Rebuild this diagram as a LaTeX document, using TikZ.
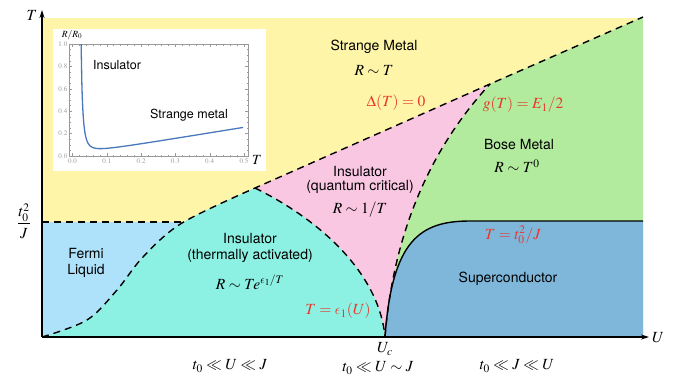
\documentclass[tikz,border=0pt]{standalone}
\usepackage{amsmath}
\usepackage{mathptmx}
\DeclareSymbolFont{cmletters}{OML}{cmm}{m}{it}
\DeclareMathSymbol{\lunateeps}{\mathord}{cmletters}{"0F}
\usepackage{fontspec}
\setmainfont{TeX Gyre Heros}
\usetikzlibrary{arrows.meta}
\definecolor{yel}{HTML}{FEF5A9}
\definecolor{fermi}{HTML}{AEE1FA}
\definecolor{cyanins}{HTML}{8CF1E3}
\definecolor{pinkqc}{HTML}{FAC7E3}
\definecolor{greenbm}{HTML}{B2EB9D}
\definecolor{scblue}{HTML}{7FB7DB}
\definecolor{redlab}{HTML}{E8362A}
\definecolor{curveblue}{HTML}{4A78BC}
\definecolor{framegray}{HTML}{999999}
\tikzset{
  bnd/.style={line width=1.4pt, dash pattern=on 7pt off 5pt},
  solidbnd/.style={line width=1.4pt},
  axis/.style={line width=1.1pt, -{Stealth[length=8pt,width=5pt]}},
  lab/.style={font=\fontsize{14}{16}\selectfont, align=center, inner sep=0pt},
  mlab/.style={font=\fontsize{15.5}{17}\selectfont, align=center, inner sep=0pt},
  redl/.style={mlab, text=redlab},
  tick/.style={line width=0.4pt, framegray},
  ticklab/.style={font=\fontsize{7}{8}\selectfont, text=framegray, inner sep=0pt}
}
\begin{document}
\begin{tikzpicture}[x=1pt,y=-1pt]
\useasboundingbox (0,0) rectangle (678,376);
% key points
\coordinate (O) at (42,337);
\coordinate (Uc) at (385,337);
\coordinate (P) at (255,188);
\coordinate (Q) at (490,84);
\coordinate (TR) at (643,17);
% regions
\fill[yel] (42,18) rectangle (643,337);
\fill[fermi] (42,222) rectangle (182,337);
\fill[greenbm] (Uc) .. controls (392,250) and (420,160) .. (Q) -- (TR) -- (643,337) -- cycle;
\fill[pinkqc] (P) -- (Q) .. controls (420,160) and (392,250) .. (Uc) .. controls (380,280) and (330,225) .. (P) -- cycle;
\fill[cyanins] plot[smooth, tension=0.55] coordinates {(42,337) (87,320) (117,290) (143,257) (182,223) (255,188)} .. controls (330,225) and (380,280) .. (Uc) -- cycle;
\fill[scblue] (Uc) .. controls (392,240) and (420,221) .. (470,221) -- (643,221) -- (643,337) -- cycle;
% boundaries
\draw[bnd] plot[smooth, tension=0.55] coordinates {(42,337) (87,320) (117,290) (143,257) (182,223) (255,188)} -- (Q) -- (TR);
\draw[bnd] (42,222) -- (182,222);
\draw[bnd] (P) .. controls (330,225) and (380,280) .. (Uc);
\draw[bnd] (Uc) .. controls (392,250) and (420,160) .. (Q);
\draw[solidbnd] (Uc) .. controls (392,240) and (420,221) .. (470,221) -- (643,221);
% axes
\draw[axis] (O) -- (42,10);
\draw[axis] (O) -- (649,337);
\node[mlab] (Tax) at (32,15) {$T$};
\node[mlab] (Uax) at (658,338) {$U$};
\node[mlab] (frac) at (24,221) {$\dfrac{t_0^2}{J}$};
\node[mlab] (Ucl) at (385,349) {$U_c$};
% region labels
\node[lab] (sm1) at (374,47) {Strange Metal};
\node[mlab] (sm2) at (374,70) {$R\sim T$};
\node[redl] (delta) at (396,103) {$\Delta(T)=0$};
\node[redl] (gT) at (523,105) {$g(T)=E_1/2$};
\node[lab] (bm1) at (519,144) {Bose Metal};
\node[mlab] (bm2) at (517,166) {$R\sim T^0$};
\node[lab] (qc1) at (360,171) {Insulator};
\node[lab] (qc2) at (360,187) {(quantum critical)};
\node[mlab] (qc3) at (360,210) {$R\sim 1/T$};
\node[lab] (ta1) at (250,238) {Insulator};
\node[lab] (ta2) at (250,256) {(thermally activated)};
\node[mlab] (ta3) at (250,282) {$R\sim Te^{\lunateeps_1/T}$};
\node[lab] (fl1) at (86,253) {Fermi};
\node[lab] (fl2) at (86,271) {Liquid};
\node[redl] (eps) at (338,311) {$T=\lunateeps_1(U)$};
\node[redl] (tj) at (513,235) {$T=t_0^2/J$};
\node[lab] (sc) at (508,279) {Superconductor};
\node[mlab] (r1) at (230,366) {$t_0\ll U\ll J$};
\node[mlab] (r2) at (378,368) {$t_0\ll U\sim J$};
\node[mlab] (r3) at (517,366) {$t_0\ll J\ll U$};
% inset
\fill[white] (53,29) rectangle (266,171);
\draw[framegray, line width=0.6pt] (69,44) rectangle (248,156);
\foreach \i in {0,...,5}{
  \pgfmathsetmacro{\xx}{72.5+34.3*\i}
  \draw[tick] (\xx,156) -- ++(0,-3);
  \draw[tick] (\xx,44) -- ++(0,3);
  \pgfmathsetmacro{\lab}{\i/10}
  \node[ticklab] at (\xx,161.5) {\pgfmathprintnumber[fixed,precision=1,fixed zerofill]{\lab}};
}
\foreach \i in {0,...,25}{
  \pgfmathsetmacro{\xx}{72.5+6.86*\i}
  \draw[tick] (\xx,156) -- ++(0,-1.5);
  \draw[tick] (\xx,44) -- ++(0,1.5);
}
\foreach \i in {0,...,5}{
  \pgfmathsetmacro{\yy}{156-22.4*\i}
  \draw[tick] (69,\yy) -- ++(3,0);
  \draw[tick] (248,\yy) -- ++(-3,0);
  \pgfmathsetmacro{\lab}{\i/5}
  \node[ticklab, anchor=east] at (67.5,\yy) {\pgfmathprintnumber[fixed,precision=1,fixed zerofill]{\lab}};
}
\foreach \i in {0,...,19}{
  \pgfmathsetmacro{\yy}{156-5.6*\i}
  \draw[tick] (69,\yy) -- ++(1.5,0);
  \draw[tick] (248,\yy) -- ++(-1.5,0);
}
\begin{scope}
\clip (69,44) rectangle (248,156);
\draw[curveblue, line width=1.3pt] plot[domain=0.0245:0.5, samples=160, smooth] ({72.5+343*\x}, {156-112*(0.5*\x+0.00493*exp(0.1325/\x))});
\end{scope}
\node[inner sep=0pt, font=\fontsize{9.5}{10}\selectfont] (rr) at (72,35) {$R/R_0$};
\node[inner sep=0pt, font=\fontsize{14}{15}\selectfont] (tin) at (257,160) {$T$};
\node[inner sep=0pt, font=\fontsize{12.5}{14}\selectfont] (ins) at (117,65) {Insulator};
\node[inner sep=0pt, font=\fontsize{12.5}{14}\selectfont] (smi) at (189,115) {Strange metal};
\end{tikzpicture}
\end{document}
